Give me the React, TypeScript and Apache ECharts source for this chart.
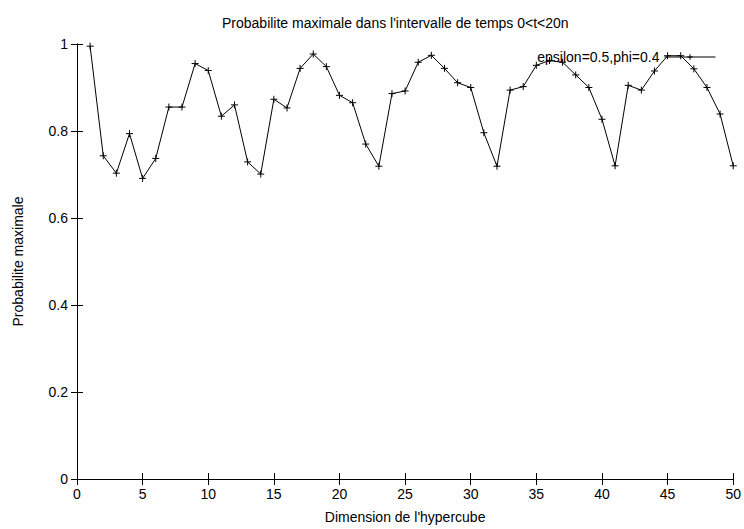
import React, { useEffect, useRef } from "react";
import * as echarts from "echarts";

const dimensions = [1, 2, 3, 4, 5, 6, 7, 8, 9, 10, 11, 12, 13, 14, 15, 16, 17, 18, 19, 20, 21, 22, 23, 24, 25, 26, 27, 28, 29, 30, 31, 32, 33, 34, 35, 36, 37, 38, 39, 40, 41, 42, 43, 44, 45, 46, 47, 48, 49, 50];
const probabilities = [
  0.995, 0.743, 0.703, 0.794, 0.691, 0.737, 0.855, 0.855, 0.955, 0.939,
  0.834, 0.860, 0.729, 0.701, 0.873, 0.853, 0.944, 0.977, 0.948, 0.882,
  0.865, 0.770, 0.719, 0.886, 0.892, 0.958, 0.974, 0.944, 0.911, 0.900,
  0.796, 0.719, 0.894, 0.902, 0.951, 0.962, 0.958, 0.929, 0.900, 0.827,
  0.720, 0.905, 0.894, 0.938, 0.973, 0.973, 0.943, 0.900, 0.839, 0.720,
];
const seriesName = "epsilon=0.5,phi=0.4";
const titleText = "Probabilite maximale dans l'intervalle de temps 0<t<20n";
const xAxisName = "Dimension de l'hypercube";
const yAxisName = "Probabilite maximale";

const FONT = "Liberation Sans, Arial, Helvetica, sans-serif";
const FS = 14;
const PLUS = "path://M5,0L5,10M0,5L10,5";

export default function App() {
  const ref = useRef<HTMLDivElement>(null);
  useEffect(() => {
    if (!ref.current) return;
    const chart = echarts.init(ref.current, null, { renderer: "svg" });
    const data = dimensions.map((d, i) => [d, probabilities[i]]);
    const tickStyle = { show: true, inside: true, length: 6, lineStyle: { color: "#000", width: 1 } };
    const lineStyle = { show: true, lineStyle: { color: "#000", width: 1 } };
    const txt = { fontFamily: FONT, fontSize: FS, color: "#000" };
    chart.setOption({
      animation: false,
      backgroundColor: "#fff",
      textStyle: { fontFamily: FONT },
      title: {
        text: titleText,
        left: 222,
        top: 16,
        padding: 0,
        textStyle: { ...txt, fontWeight: "normal" },
      },
      legend: {
        right: 28,
        top: 50,
        padding: 0,
        align: "right",
        itemWidth: 51,
        itemHeight: 7,
        itemGap: 4,
        textStyle: { ...txt, padding: [0, 0, 0, 0] },
        lineStyle: { color: "#000", width: 1 },
        itemStyle: { color: "none", borderColor: "#000", borderWidth: 1 },
        data: [{ name: seriesName }],
      },
      grid: { left: 77, right: 7, top: 44, bottom: 45, containLabel: false },
      xAxis: [
        {
          type: "value",
          min: 0,
          max: 50,
          interval: 5,
          position: "bottom",
          name: xAxisName,
          nameLocation: "middle",
          nameGap: 31,
          nameTextStyle: txt,
          axisLine: lineStyle,
          axisTick: tickStyle,
          axisLabel: { ...txt, margin: 8 },
          splitLine: { show: false },
        },
        {
          type: "value",
          min: 0,
          max: 50,
          interval: 5,
          position: "top",
          axisLine: lineStyle,
          axisTick: tickStyle,
          axisLabel: { show: false },
          splitLine: { show: false },
        },
      ],
      yAxis: [
        {
          type: "value",
          min: 0,
          max: 1,
          interval: 0.2,
          position: "left",
          name: yAxisName,
          nameLocation: "middle",
          nameGap: 52,
          nameTextStyle: txt,
          axisLine: lineStyle,
          axisTick: tickStyle,
          axisLabel: { ...txt, margin: 9 },
          splitLine: { show: false },
        },
        {
          type: "value",
          min: 0,
          max: 1,
          interval: 0.2,
          position: "right",
          axisLine: lineStyle,
          axisTick: tickStyle,
          axisLabel: { show: false },
          splitLine: { show: false },
        },
      ],
      series: [
        {
          name: seriesName,
          type: "line",
          data,
          xAxisIndex: 0,
          yAxisIndex: 0,
          symbol: PLUS,
          symbolSize: 7,
          showAllSymbol: true,
          lineStyle: { color: "#000", width: 1 },
          itemStyle: { color: "none", borderColor: "#000", borderWidth: 1 },
          emphasis: { disabled: true },
        },
      ],
    });
    return () => chart.dispose();
  }, []);
  return (
    <div
      ref={ref}
      style={{ position: "fixed", left: 0, top: 0, width: 744, height: 529 }}
    />
  );
}
